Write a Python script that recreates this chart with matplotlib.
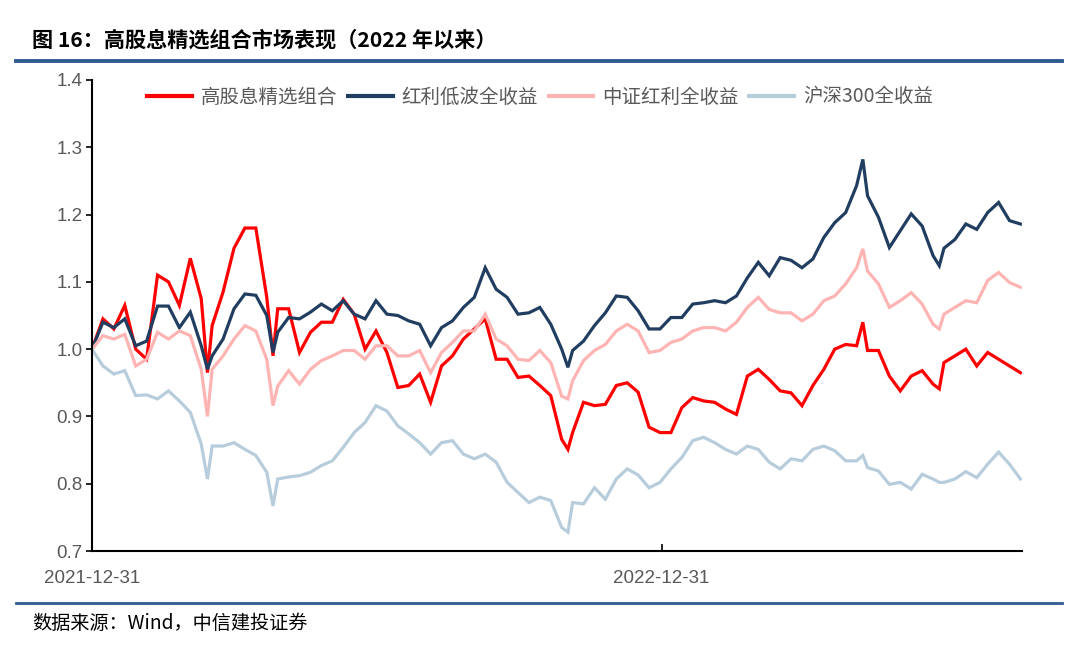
import matplotlib
matplotlib.use("Agg")
import matplotlib.pyplot as plt
import matplotlib.dates as mdates
import numpy as np
import pandas as pd

# days after 2021-12-31
days = [0, 7, 14, 21, 28, 35, 42, 49, 56, 63, 70, 74, 77, 84, 91, 98, 105, 112, 116, 119,
        126, 133, 140, 147, 154, 161, 168, 175, 182, 189, 196, 203, 210, 217, 224, 231, 238,
        245, 252, 259, 266, 273, 280, 287, 294, 301, 305, 308, 315, 322, 329, 336, 343, 350,
        357, 364, 371, 378, 385, 392, 399, 406, 413, 420, 427, 434, 441, 448, 455, 462, 469,
        476, 483, 490, 494, 497, 504, 511, 518, 525, 532, 539, 543, 546, 553, 560, 567, 574,
        581, 588, 595]

high_div = [1.0, 1.045, 1.03, 1.065, 1.0, 0.985, 1.11, 1.10, 1.065, 1.135, 1.075, 0.965, 1.035,
            1.085, 1.15, 1.18, 1.18, 1.077, 0.99, 1.06, 1.06, 0.995, 1.025, 1.04, 1.04, 1.074,
            1.052, 1.0, 1.027, 0.995, 0.943, 0.946, 0.963, 0.921, 0.975, 0.99, 1.015, 1.03,
            1.045, 0.985, 0.985, 0.958, 0.96, 0.946, 0.931, 0.866, 0.851, 0.876, 0.921, 0.916,
            0.918, 0.946, 0.95, 0.936, 0.884, 0.876, 0.876, 0.913, 0.928, 0.923, 0.921, 0.911,
            0.903, 0.96, 0.97, 0.955, 0.938, 0.935, 0.916, 0.946, 0.97, 1.0, 1.007, 1.005,
            1.04, 0.998, 0.998, 0.96, 0.938, 0.96, 0.968, 0.948, 0.941, 0.98, 0.99, 1.0, 0.975,
            0.995, 0.985, 0.975, 0.965]

low_vol = [1.0, 1.04, 1.032, 1.045, 1.005, 1.012, 1.064, 1.064, 1.032, 1.055, 1.005, 0.97, 0.99,
           1.015, 1.06, 1.082, 1.08, 1.05, 0.995, 1.025, 1.047, 1.045, 1.055, 1.067, 1.057,
           1.072, 1.052, 1.045, 1.072, 1.052, 1.05, 1.042, 1.037, 1.005, 1.032, 1.042, 1.062,
           1.077, 1.121, 1.089, 1.077, 1.052, 1.054, 1.062, 1.037, 1.0, 0.973, 0.998, 1.012,
           1.035, 1.054, 1.079, 1.077, 1.057, 1.03, 1.03, 1.047, 1.047, 1.067, 1.069, 1.072,
           1.069, 1.079, 1.106, 1.129, 1.109, 1.136, 1.132, 1.121, 1.134, 1.166, 1.188, 1.203,
           1.243, 1.282, 1.228, 1.196, 1.151, 1.176, 1.201, 1.183, 1.139, 1.124, 1.15, 1.163,
           1.186, 1.178, 1.203, 1.218, 1.191, 1.186]

csi_div = [1.0, 1.02, 1.015, 1.022, 0.975, 0.985, 1.025, 1.015, 1.027, 1.02, 0.97, 0.90, 0.97,
           0.99, 1.015, 1.035, 1.027, 0.985, 0.916, 0.945, 0.968, 0.948, 0.97, 0.983, 0.99,
           0.998, 0.998, 0.985, 1.005, 1.005, 0.99, 0.99, 0.998, 0.965, 0.995, 1.01, 1.027,
           1.027, 1.052, 1.015, 1.005, 0.985, 0.983, 0.998, 0.98, 0.93, 0.926, 0.953, 0.983,
           0.998, 1.007, 1.027, 1.037, 1.027, 0.995, 0.998, 1.01, 1.015, 1.027, 1.032, 1.032,
           1.027, 1.04, 1.062, 1.077, 1.059, 1.054, 1.054, 1.042, 1.052, 1.072, 1.079, 1.097,
           1.121, 1.149, 1.116, 1.097, 1.062, 1.072, 1.084, 1.067, 1.037, 1.03, 1.052, 1.062,
           1.072, 1.069, 1.102, 1.114, 1.099, 1.092]

hs300 = [1.0, 0.975, 0.963, 0.968, 0.931, 0.932, 0.926, 0.938, 0.923, 0.906, 0.859, 0.807, 0.856,
         0.856, 0.861, 0.851, 0.842, 0.817, 0.767, 0.807, 0.81, 0.812, 0.817, 0.827, 0.834,
         0.854, 0.876, 0.891, 0.916, 0.908, 0.886, 0.874, 0.861, 0.844, 0.861, 0.864, 0.844,
         0.837, 0.844, 0.832, 0.802, 0.787, 0.772, 0.78, 0.775, 0.735, 0.728, 0.772, 0.77,
         0.794, 0.777, 0.807, 0.822, 0.813, 0.794, 0.802, 0.822, 0.839, 0.864, 0.869, 0.861,
         0.851, 0.844, 0.856, 0.851, 0.832, 0.822, 0.837, 0.834, 0.851, 0.856, 0.849, 0.834,
         0.834, 0.842, 0.824, 0.819, 0.799, 0.802, 0.792, 0.814, 0.807, 0.802, 0.802, 0.807,
         0.818, 0.809, 0.829, 0.847, 0.829, 0.807]

names = ["高股息精选组合", "红利低波全收益", "中证红利全收益", "沪深300全收益"]
colors = ["#FF0000", "#213E61", "#FFB4B4", "#B8CDDC"]

start = pd.Timestamp("2021-12-31")
dates = start + pd.to_timedelta(days, unit="D")

cjk = ["Noto Sans CJK SC", "DejaVu Sans"]
num_font = ["Liberation Sans", "DejaVu Sans"]
gray = "#595959"
line_blue = "#2F5C8F"

fig = plt.figure(figsize=(10.8, 6.46), dpi=100)
ax = fig.add_axes([92 / 1080, 1 - 551 / 646, 930 / 1080, 471 / 646])

for name, vals, c in zip(names, [high_div, low_vol, csi_div, hs300], colors):
    ax.plot(dates, vals, color=c, lw=2.3, label=name, solid_joinstyle="miter")

ax.set_ylim(0.7, 1.4)
ax.set_yticks(np.arange(0.7, 1.41, 0.1))
ax.yaxis.set_major_formatter(plt.FormatStrFormatter("%.1f"))
ax.set_xlim(start, start + pd.Timedelta(days=596))
ax.set_xticks([pd.Timestamp("2021-12-31"), pd.Timestamp("2022-12-31")])
ax.xaxis.set_major_formatter(mdates.DateFormatter("%Y-%m-%d"))

for s in ["top", "right"]:
    ax.spines[s].set_visible(False)
for s in ["left", "bottom"]:
    ax.spines[s].set_linewidth(1.5)
    ax.spines[s].set_color("black")

ax.tick_params(axis="y", direction="out", length=4, width=1.2, pad=3, labelsize=13.5,
               labelcolor=gray)
ax.tick_params(axis="x", direction="in", length=5, width=1.2, pad=14, labelsize=13.5,
               labelcolor=gray)
for lab in ax.get_xticklabels() + ax.get_yticklabels():
    lab.set_family(num_font)

leg = ax.legend(loc="center", bbox_to_anchor=(540 / 1080, 1 - 97 / 646),
                bbox_transform=fig.transFigure, ncol=4, frameon=False,
                prop={"family": cjk, "size": 14}, handlelength=2.3,
                handletextpad=0.45, columnspacing=0.55, borderaxespad=0)
for t in leg.get_texts():
    t.set_color(gray)
for h in leg.get_lines():
    h.set_linewidth(3)

fig.text(32 / 1080, 1 - 40 / 646, "图 16：高股息精选组合市场表现（2022 年以来）",
         family=cjk, fontsize=15.2, fontweight="bold", va="center", ha="left")
fig.add_artist(plt.Line2D([16 / 1080, 1062 / 1080], [1 - 61 / 646, 1 - 61 / 646],
                          color=line_blue, lw=2.8, transform=fig.transFigure))
fig.add_artist(plt.Line2D([16 / 1080, 1062 / 1080], [1 - 603 / 646, 1 - 603 / 646],
                          color=line_blue, lw=2.0, transform=fig.transFigure))
fig.text(32 / 1080, 1 - 623 / 646, "数据来源：Wind，中信建投证券", family=cjk, fontsize=13.8,
         style="italic", va="center", ha="left")

fig.savefig("out.png", dpi=100)
